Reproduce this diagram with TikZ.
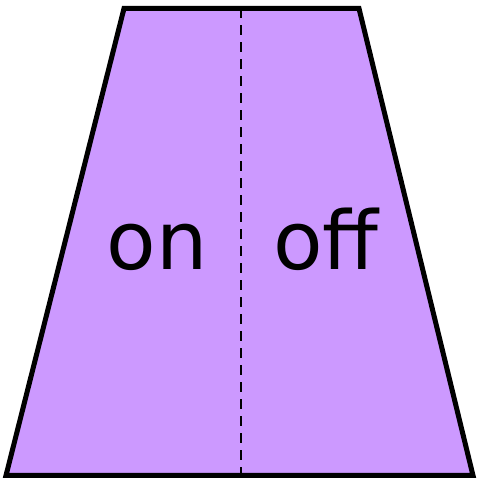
\documentclass[tikz,border=0pt]{standalone}
\usepackage{fontspec}
\newfontfamily\labelfont{DejaVu Sans}
\definecolor{switchfill}{HTML}{CC99FF}
\tikzset{
  outline/.style={line width=5pt, line join=miter, fill=switchfill},
  divider/.style={line width=2pt, dash pattern=on 10pt off 7pt},
  statelabel/.style={anchor=base, inner sep=0pt, font=\labelfont\fontsize{81}{81}\selectfont}
}
\begin{document}
\begin{tikzpicture}[x=1pt,y=1pt]
      \useasboundingbox (0,0) rectangle (477,481);
      % corners of the trapezoid
      \coordinate (tl) at (124,472.5);
      \coordinate (tr) at (359,472.5);
      \coordinate (br) at (473,5.5);
      \coordinate (bl) at (6,5.5);
      \coordinate (tm) at (241,472.5);
      \coordinate (bm) at (241,5.5);
      \draw[outline] (tl) -- (tr) -- (br) -- (bl) -- cycle;
      \draw[divider] (tm) -- (bm);
      \node[statelabel] (on) at (157,211) {on};
      \node[statelabel] (off) at (326,211) {off};
    \end{tikzpicture}
\end{document}
